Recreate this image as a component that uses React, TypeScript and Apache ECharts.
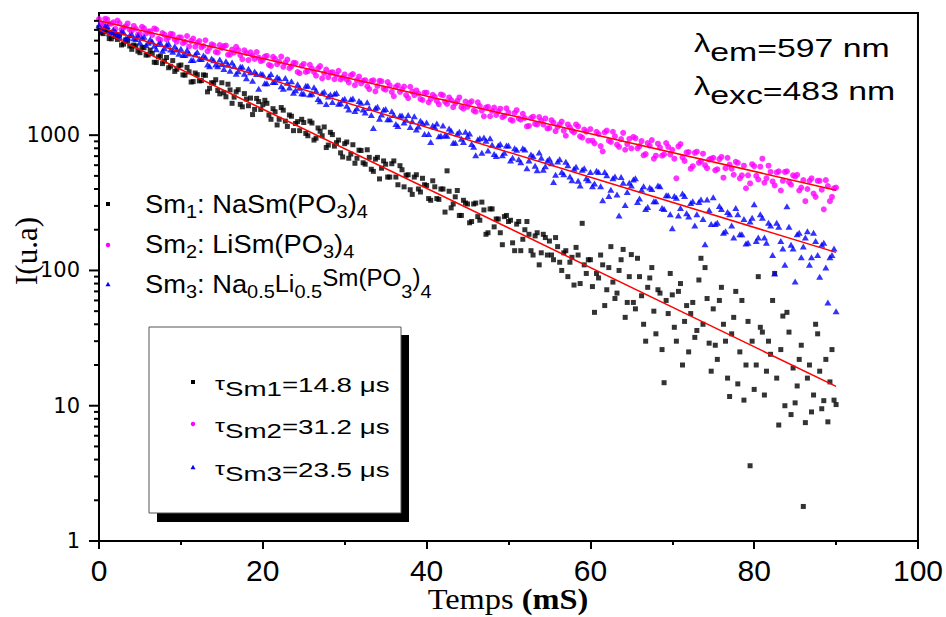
import React, { useEffect, useRef } from 'react';
import * as echarts from 'echarts';

// sampling: main samples at t = 0, 0.5, ... 90 ms ; mid samples at t = 0.25, 0.75, ... 89.75 ms
const T_STEP = 0.5;
const T_MID_OFFSET = 0.25;

// Sm1 : NaSm(PO3)4  (black squares)
const SM1 = [
  6240, 5630, 5950, 5150, 5350, 5480, 4710, 4980, 4310, 4560,
  4070, 4430, 3920, 4020, 3440, 3840, 3530, 3150, 3560, 3070,
  3300, 2780, 2940, 2490, 2800, 2530, 2770, 2220, 2430, 2140,
  2440, 1920, 2160, 1910, 2170, 1620, 1850, 1880, 1550, 1770,
  1680, 1720, 1310, 1490, 1310, 1530, 1160, 1380, 1220, 1080,
  1240, 990, 1230, 950, 1070, 1150, 845, 1010, 880, 740,
  865, 675, 850, 675, 770, 610, 685, 540, 685, 570,
  610, 490, 645, 430, 555, 505, 395, 490, 400, 480,
  425, 330, 415, 335, 400, 545, 290, 350, 255, 330,
  310, 230, 315, 235, 280, 190, 285, 240, 190, 250,
  230, 160, 220, 140, 200, 185, 130, 190, 135, 175,
  165, 120, 150, 100, 140, 115, 78, 130, 223, 95,
  120, 49, 88, 110, 72, 150, 62, 100, 143, 58,
  131, 52, 90, 40, 75, 105, 34, 68, 14.8, 48,
  66, 30, 80, 42, 25, 58, 36, 123, 105, 29,
  52, 22, 75, 30, 11.7, 45, 14.5, 60, 20, 3.6,
  13.2, 90, 35, 18, 24, 95, 7.2, 46, 49, 8.6,
  10.5, 22, 1.8, 16, 9.0, 40, 18, 10.9, 7.6, 26,
  10.2,
];
const SM1_MID = [
  5720, 5990, 5180, 5700, 5100, 4640, 5060, 4560, 4640, 4180,
  4460, 3910, 4250, 3460, 3790, 3380, 3750, 3230, 2960, 3260,
  2790, 3170, 2470, 2880, 2520, 2790, 2090, 2440, 2570, 2020,
  2060, 2380, 1720, 2090, 1690, 2030, 1650, 1420, 1870, 1550,
  1810, 1410, 1570, 1190, 1600, 1270, 1410, 1080, 1260, 1310,
  1030, 1270, 920, 1130, 990, 810, 1050, 830, 920, 690,
  890, 725, 620, 775, 625, 780, 560, 665, 475, 645,
  490, 615, 490, 595, 415, 510, 365, 510, 380, 430,
  340, 460, 340, 400, 270, 385, 310, 390, 255, 315,
  225, 310, 250, 320, 185, 285, 210, 240, 155, 255,
  235, 140, 230, 170, 230, 140, 180, 110, 185, 130,
  130, 175, 115, 135, 90, 125, 148, 80, 110, 120,
  76, 95, 130, 55, 105, 82, 68, 120, 45, 90,
  58, 123, 65, 30, 88, 50, 72, 26, 60, 95,
  38, 70, 20, 55, 48, 32, 85, 40, 62, 18,
  28, 60, 40, 16, 34, 70, 25, 11, 42, 30,
  20, 38, 12, 30, 60, 16, 26, 10, 35, 19,
  14, 28, 7.5, 20, 12, 34, 9.5, 22, 15, 11,
];

// Sm2 : LiSm(PO3)4 (magenta circles)
const SM2 = [
  7210, 6540, 7190, 6670, 6110, 6720, 6240, 6700, 5910, 6120,
  5610, 6160, 5840, 5510, 6040, 5060, 5530, 5280, 5560, 4910,
  5280, 4900, 4530, 5180, 4810, 4460, 5030, 4410, 4610, 4090,
  4420, 4600, 3940, 4080, 4260, 3640, 4050, 4100, 3660, 3750,
  3580, 3850, 3250, 3660, 3490, 3200, 3620, 3230, 3410, 2870,
  3360, 2970, 3110, 2750, 3240, 2870, 2680, 2920, 2790, 2580,
  2810, 2450, 2830, 2550, 2410, 2550, 2190, 2540, 2310, 2500,
  2170, 2330, 1940, 2330, 2180, 1980, 2280, 1980, 2030, 1820,
  2060, 1850, 1920, 1690, 1970, 1700, 1820, 1720, 1900, 1570,
  1620, 1780, 1490, 1640, 1380, 1620, 1510, 1410, 1570, 1390,
  1470, 1280, 1530, 1300, 1340, 1170, 1370, 1200, 1280, 1330,
  1130, 1240, 1150, 1260, 990, 1140, 1050, 1160, 960, 1060,
  1110, 870, 1020, 760, 1080, 890, 980, 820, 1040, 860,
  800, 950, 830, 710, 875, 920, 705, 810, 720, 820,
  780, 480, 860, 645, 750, 590, 755, 640, 600, 660,
  680, 560, 690, 570, 605, 510, 625, 505, 405, 440,
  590, 470, 670, 480, 535, 425, 540, 460, 540, 430,
  495, 390, 465, 400, 480, 350, 460, 283, 420, 350,
  410,
];
const SM2_MID = [
  6670, 7240, 6660, 6820, 7040, 6030, 6380, 6020, 6420, 5530,
  6330, 5650, 5850, 6150, 5160, 5680, 5110, 5610, 5100, 5280,
  4790, 5410, 4980, 4510, 4960, 4560, 4170, 4690, 4120, 4630,
  4550, 3930, 4290, 4500, 3910, 4240, 3590, 3880, 4120, 3530,
  3810, 3310, 3790, 3350, 3810, 3440, 3130, 3430, 2930, 3260,
  2930, 3310, 2930, 3120, 2630, 3050, 2890, 2590, 2990, 2670,
  2580, 2770, 2340, 2710, 2520, 2300, 2510, 2110, 2520, 2210,
  2470, 2090, 2280, 2090, 2290, 1880, 2100, 2140, 1850, 2060,
  1750, 1990, 1790, 2000, 1770, 1900, 1610, 1790, 1610, 1770,
  1730, 1520, 1750, 1520, 1600, 1380, 1600, 1500, 1360, 1580,
  1300, 1460, 1330, 1440, 1160, 1340, 1210, 1360, 1200, 1120,
  1290, 1070, 1200, 1080, 1200, 1080, 1200, 980, 1100, 910,
  910, 1060, 830, 1050, 910, 1060, 850, 935, 780, 940,
  970, 800, 905, 725, 835, 670, 865, 705, 875, 720,
  670, 825, 685, 745, 565, 740, 625, 730, 570, 670,
  550, 665, 485, 680, 565, 635, 480, 595, 505, 610,
  500, 585, 445, 595, 455, 530, 390, 535, 450, 505,
  510, 410, 325, 460, 370, 460, 395, 465, 325, 405,
];

// Sm3 : Na0.5Li0.5Sm(PO3)4 (blue triangles)
const SM3 = [
  6490, 5920, 6400, 5790, 5850, 5320, 5770, 5270, 5580, 5150,
  4840, 5330, 4830, 4920, 4310, 4810, 4390, 4740, 4130, 4290,
  4360, 3910, 4020, 3590, 4120, 3660, 3770, 3230, 3580, 3230,
  3360, 3520, 2990, 3240, 2970, 3200, 2630, 2920, 2950, 2200,
  2820, 2420, 2830, 2470, 2620, 2200, 2440, 2500, 2150, 2240,
  2020, 2320, 2020, 2140, 1780, 2090, 1930, 1760, 2050, 1720,
  1860, 1550, 1870, 1580, 1740, 1470, 1590, 1130, 1620, 1420,
  1560, 1310, 1410, 1170, 1400, 1300, 1150, 1380, 1160, 1230,
  1240, 890, 1150, 980, 1180, 990, 1080, 880, 1060, 890,
  980, 860, 710, 950, 960, 770, 850, 700, 860, 740,
  840, 680, 780, 630, 785, 650, 700, 550, 680, 590,
  670, 450, 640, 535, 635, 495, 565, 460, 555, 480,
  535, 440, 535, 330, 505, 395, 495, 255, 445, 380,
  425, 480, 340, 420, 295, 400, 325, 420, 285, 360,
  205, 345, 290, 355, 250, 325, 260, 335, 156, 280,
  348, 225, 285, 195, 260, 175, 260, 185, 158, 230,
  308, 175, 245, 160, 215, 95, 210, 145, 298, 155,
  83, 190, 150, 195, 125, 165, 90, 160, 58, 130,
  50,
];
const SM3_MID = [
  6110, 6410, 5670, 6020, 5560, 5830, 5160, 5480, 5210, 5460,
  5240, 4640, 5120, 4580, 4720, 4210, 4660, 4300, 4550, 4000,
  3910, 4270, 3590, 3970, 3670, 3880, 3330, 3690, 3330, 3630,
  3090, 3320, 3440, 2840, 3210, 2840, 3100, 2520, 2830, 2850,
  2420, 2710, 2470, 2690, 2300, 2650, 2250, 2060, 2380, 2040,
  2320, 2000, 2260, 1850, 2050, 1700, 2000, 2020, 1710, 1830,
  1650, 1840, 1510, 1790, 1550, 1750, 1410, 1590, 1320, 1540,
  1310, 1500, 1210, 1400, 1240, 1410, 1270, 1100, 1280, 1020,
  1020, 1180, 1220, 990, 1000, 1120, 880, 1030, 940, 1060,
  1030, 820, 930, 740, 910, 950, 725, 840, 710, 840,
  650, 800, 665, 800, 570, 720, 595, 745, 555, 650,
  620, 510, 665, 515, 600, 465, 585, 425, 570, 465,
  420, 545, 420, 535, 355, 480, 365, 490, 305, 445,
  470, 320, 395, 285, 410, 325, 425, 290, 360, 260,
  355, 255, 370, 265, 315, 215, 320, 240, 335, 220,
  220, 300, 190, 270, 215, 290, 185, 240, 160, 245,
  165, 260, 175, 225, 130, 225, 165, 110, 210, 145,
  185, 125, 175, 110, 190, 130, 155, 105, 125, 145,
];

// exponential fits (straight lines on the log axis): end points
const FIT_T = [0, 90];
const FIT_SM1 = [6000, 13.9];
const FIT_SM2 = [7000, 392];
const FIT_SM3 = [6300, 136];

// axes
const X_MIN = 0;
const X_MAX = 100;
const X_INTERVAL = 20;
const Y_MIN = 1;
const Y_MAX = 8000;
const Y_LABELS = [1, 10, 100, 1000];
const Y_MINOR = [2, 3, 4, 5, 6, 7, 8, 9, 20, 30, 40, 50, 60, 70, 80, 90,
  200, 300, 400, 500, 600, 700, 800, 900, 2000, 3000, 4000, 5000, 6000, 7000];

const SANS = '"Liberation Sans", Arial, Helvetica, sans-serif';
const WIDE_SANS = '"DejaVu Sans", "Liberation Sans", Arial, sans-serif';
const SERIF = '"Liberation Serif", "Times New Roman", serif';

const C1 = '#000000';
const C2 = '#ff00ff';
const C3 = '#0000ff';
const RED = '#ff0000';

function toPoints(vals: number[], mids: number[]) {
  const main = vals.map((v, i) => [Math.round(i * T_STEP * 100) / 100, v]);
  const mid = mids.map((v, i) => [Math.round((T_MID_OFFSET + i * T_STEP) * 100) / 100, v]);
  return main.concat(mid).sort((a, b) => a[0] - b[0]);
}
function fitPoints(vals: number[]) {
  return FIT_T.map((t, i) => [t, vals[i]]);
}

function tickSeries(values: number[], len: number) {
  return {
    type: 'custom',
    coordinateSystem: 'cartesian2d',
    silent: true,
    clip: false,
    z: 6,
    data: values.map((v) => [X_MIN, v]),
    renderItem: (_p: any, api: any) => {
      const p = api.coord([api.value(0), api.value(1)]);
      return {
        type: 'line',
        shape: { x1: p[0] - len, y1: p[1], x2: p[0], y2: p[1] },
        style: { stroke: '#000', lineWidth: 2 },
      };
    },
  };
}

export default function App() {
  const ref = useRef<HTMLDivElement>(null);

  useEffect(() => {
    if (!ref.current) return;
    const chart = echarts.init(ref.current, undefined, { renderer: 'svg' });

    const leg1Rich = {
      n: { fontSize: 26, fontFamily: SANS, lineHeight: 34, fill: '#000' },
      s: { fontSize: 19, fontFamily: SANS, lineHeight: 10, verticalAlign: 'bottom', fill: '#000' },
      m: { fontSize: 24, fontFamily: SANS, lineHeight: 34, fill: '#000' },
      u: { fontSize: 23, fontFamily: SANS, lineHeight: 26, verticalAlign: 'top', fill: '#000' },
    };
    const leg2Rich = {
      t: { fontSize: 19, fontFamily: SANS, lineHeight: 8, verticalAlign: 'top', fill: '#000' },
      n: { fontSize: 21, fontFamily: SANS, lineHeight: 30, fill: '#000' },
      u: { fontSize: 21, fontFamily: SANS, lineHeight: 14, verticalAlign: 'top', fill: '#000' },
    };
    const lamRich = {
      l: { fontSize: 25, fontFamily: SANS, lineHeight: 24, verticalAlign: 'top', fill: '#000' },
      s: { fontSize: 26, fontFamily: SANS, lineHeight: 14, verticalAlign: 'bottom', fill: '#000' },
      n: { fontSize: 26, fontFamily: SANS, lineHeight: 34, fill: '#000' },
    };

    const richText = (x: number, y: number, text: string, rich: any, scaleX: number) => ({
      type: 'text',
      x,
      y,
      scaleX,
      z: 50,
      style: { text, rich, fill: '#000', font: `26px ${SANS}`, verticalAlign: 'top', align: 'left' },
    });

    const tri = (cx: number, cy: number, w: number, h: number, color: string) => ({
      type: 'polygon',
      z: 50,
      shape: { points: [[cx - w / 2, cy + h / 2], [cx + w / 2, cy + h / 2], [cx, cy - h / 2]] },
      style: { fill: color },
    });

    const option: any = {
      animation: false,
      backgroundColor: '#ffffff',
      grid: {
        left: 99, right: 28, top: 13, bottom: 76,
        show: true, borderColor: '#000', borderWidth: 2, backgroundColor: 'transparent',
      },
      xAxis: {
        type: 'value',
        min: X_MIN, max: X_MAX, interval: X_INTERVAL,
        axisLine: { show: true, onZero: false, lineStyle: { color: '#000', width: 2 } },
        axisTick: { show: true, length: 8, lineStyle: { color: '#000', width: 2 } },
        minorTick: { show: true, splitNumber: 2, length: 4, lineStyle: { color: '#000', width: 2 } },
        splitLine: { show: false },
        minorSplitLine: { show: false },
        axisLabel: { color: '#000', fontSize: 30, fontFamily: SANS, margin: 14 },
      },
      yAxis: {
        type: 'log', logBase: 10, min: Y_MIN, max: Y_MAX,
        axisLine: { show: true, lineStyle: { color: '#000', width: 2 } },
        axisTick: { show: false },
        minorTick: { show: false },
        splitLine: { show: false },
        axisLabel: {
          color: '#000', fontSize: 21, fontFamily: WIDE_SANS, margin: 19,
          formatter: (v: number) =>
            Y_LABELS.some((l) => Math.abs(v - l) < l * 1e-6) ? String(Math.round(v)) : '',
        },
      },
      series: [
        { type: 'scatter', name: 'Sm1', data: toPoints(SM1, SM1_MID), symbol: 'rect', symbolSize: 5, itemStyle: { color: C1 }, z: 2 },
        { type: 'scatter', name: 'Sm2', data: toPoints(SM2, SM2_MID), symbol: 'circle', symbolSize: 6, itemStyle: { color: C2 }, z: 2 },
        { type: 'scatter', name: 'Sm3', data: toPoints(SM3, SM3_MID), symbol: 'triangle', symbolSize: [7, 6], itemStyle: { color: C3 }, z: 2 },
        { type: 'line', name: 'fit1', data: fitPoints(FIT_SM1), showSymbol: false, symbol: 'none', lineStyle: { color: RED, width: 1.5 }, z: 4 },
        { type: 'line', name: 'fit2', data: fitPoints(FIT_SM2), showSymbol: false, symbol: 'none', lineStyle: { color: RED, width: 1.5 }, z: 4 },
        { type: 'line', name: 'fit3', data: fitPoints(FIT_SM3), showSymbol: false, symbol: 'none', lineStyle: { color: RED, width: 1.5 }, z: 4 },
        tickSeries(Y_LABELS, 10),
        tickSeries(Y_MINOR, 5),
      ],
      graphic: [
        // axis names
        {
          type: 'text', x: 508, y: 584, z: 50, scaleX: 1.08,
          style: {
            text: '{r|Temps }{b|(mS)}',
            align: 'center', verticalAlign: 'top', fill: '#000', font: `30px ${SERIF}`,
            rich: {
              r: { fontSize: 30, fontFamily: SERIF, lineHeight: 30, fill: '#000' },
              b: { fontSize: 30, fontFamily: SERIF, fontWeight: 'bold', lineHeight: 30, fill: '#000' },
            },
          },
        },
        {
          type: 'text', x: 26, y: 251, rotation: Math.PI / 2, z: 50,
          style: { text: 'I(u.a)', align: 'center', verticalAlign: 'middle', fill: '#000', font: `31px ${SERIF}` },
        },
        // legend 1
        { type: 'rect', z: 50, shape: { x: 106, y: 202, width: 4, height: 4 }, style: { fill: C1 } },
        { type: 'circle', z: 50, shape: { cx: 108, cy: 245, r: 2.2 }, style: { fill: C2 } },
        tri(108, 284, 5, 4.5, C3),
        richText(145, 187, '{n|Sm}{s|1}{n|: NaSm(PO}{s|3}{n|)}{s|4}', leg1Rich, 1.05),
        richText(145, 227, '{n|Sm}{s|2}{n|: LiSm(PO}{s|3}{n|)}{s|4}', leg1Rich, 1.05),
        richText(145, 267, '{n|Sm}{s|3}{n|: Na}{s|0.5}{m|Li}{s|0.5}{u|Sm(PO}{s|3}{u|)}{s|4}', leg1Rich, 1.05),
        // legend 2 box with shadow
        { type: 'rect', z: 40, shape: { x: 157, y: 335, width: 252, height: 187 }, style: { fill: '#000' } },
        { type: 'rect', z: 41, shape: { x: 149, y: 327, width: 252, height: 186 }, style: { fill: '#fff', stroke: '#555', lineWidth: 1 } },
        { type: 'rect', z: 50, shape: { x: 191, y: 380, width: 4, height: 4 }, style: { fill: C1 } },
        { type: 'circle', z: 50, shape: { cx: 193, cy: 424, r: 2.2 }, style: { fill: C2 } },
        tri(193, 467, 5, 4.5, C3),
        richText(215, 374, '{t|τ}{n|Sm1}{u|=14.8 μs}', leg2Rich, 1.32),
        richText(215, 416, '{t|τ}{n|Sm2}{u|=31.2 μs}', leg2Rich, 1.32),
        richText(215, 459, '{t|τ}{n|Sm3}{u|=23.5 μs}', leg2Rich, 1.32),
        // excitation / emission wavelengths
        richText(694, 31, '{l|λ}{s|em}{n|=597 nm}', lamRich, 1.3),
        richText(694, 74, '{l|λ}{s|exc}{n|=483 nm}', lamRich, 1.3),
      ],
    };

    chart.setOption(option);
    return () => chart.dispose();
  }, []);

  return (
    <div
      ref={ref}
      style={{ position: 'fixed', left: 0, top: 0, width: 946, height: 617, background: '#fff' }}
    />
  );
}
